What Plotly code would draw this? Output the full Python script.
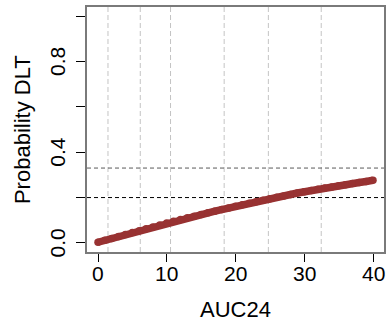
import plotly.graph_objects as go

auc = list(range(0, 41))
prob_dlt = [0.003, 0.0115, 0.020, 0.0285, 0.037, 0.0455, 0.054, 0.062, 0.0705, 0.079,
            0.088, 0.0955, 0.103, 0.1105, 0.118, 0.125, 0.1325, 0.140, 0.147, 0.1545,
            0.162, 0.1685, 0.175, 0.182, 0.188, 0.1945, 0.201, 0.207, 0.2135, 0.220,
            0.226, 0.231, 0.237, 0.242, 0.247, 0.252, 0.257, 0.262, 0.2665, 0.271, 0.276]
vlines = [1.45, 6.15, 10.55, 18.35, 24.78, 32.47]
hlines = [0.2, 0.33]
hline_colors = ["#000000", "#5a5a5a"]
x_ticks = [0, 10, 20, 30, 40]
y_ticks = [0, 0.2, 0.4, 0.6, 0.8, 1.0]
y_ticktext = ["0.0", "", "0.4", "", "0.8", ""]
x_title = "AUC24"
y_title = "Probability DLT"

curve_color = "#983232"
font = "Liberation Sans, Arial, sans-serif"
fig = go.Figure()
fig.add_trace(go.Scatter(x=auc, y=prob_dlt, mode="lines+markers",
                         line=dict(color=curve_color, width=7.5),
                         marker=dict(color=curve_color, size=7.5),
                         showlegend=False, hoverinfo="skip"))

for v in vlines:
    fig.add_shape(type="line", xref="x", yref="paper", x0=v, x1=v, y0=0, y1=1,
                  line=dict(color="#c4c4c4", width=1, dash="5px,3px"), layer="below")
for h, c in zip(hlines, hline_colors):
    fig.add_shape(type="line", xref="paper", yref="y", x0=0, x1=1, y0=h, y1=h,
                  line=dict(color=c, width=1, dash="4px,3px"), layer="below")

# tick labels and titles as annotations for exact placement
for xv in x_ticks:
    fig.add_annotation(x=xv, xref="x", y=-0.088, yref="paper", text=str(xv),
                       showarrow=False, xanchor="center", yanchor="middle",
                       font=dict(family=font, size=21, color="black"))
for yv, t in zip(y_ticks, y_ticktext):
    if t:
        fig.add_annotation(x=-0.099, xref="paper", y=yv, yref="y", text=t,
                           textangle=-90, showarrow=False, xanchor="center",
                           yanchor="middle",
                           font=dict(family=font, size=21, color="black"))
fig.add_annotation(x=0.5, xref="paper", y=-0.294, yref="paper", text=x_title,
                   showarrow=False, xanchor="center", yanchor="bottom",
                   font=dict(family=font, size=22, color="black"))
fig.add_annotation(x=-0.217, xref="paper", y=0.5, yref="paper", text=y_title,
                   textangle=-90, showarrow=False, xanchor="center", yanchor="middle",
                   font=dict(family=font, size=22, color="black"))

fig.update_layout(
    width=388, height=324,
    margin=dict(l=87, r=4, t=7, b=72),
    paper_bgcolor="white", plot_bgcolor="white",
    font=dict(family=font, color="black", size=21),
    xaxis=dict(range=[-1.6, 41.6], tickvals=x_ticks, showticklabels=False,
               ticks="outside", ticklen=8, tickcolor="black", tickwidth=1,
               showgrid=False, zeroline=False, automargin=False,
               showline=True, linecolor="#7a7a7a", linewidth=1.5, mirror=True),
    yaxis=dict(range=[-0.04, 1.04], tickvals=y_ticks, showticklabels=False,
               ticks="outside", ticklen=9, tickcolor="black", tickwidth=1,
               showgrid=False, zeroline=False, automargin=False,
               showline=True, linecolor="#7a7a7a", linewidth=1.5, mirror=True),
)
fig.write_html("out.html")
